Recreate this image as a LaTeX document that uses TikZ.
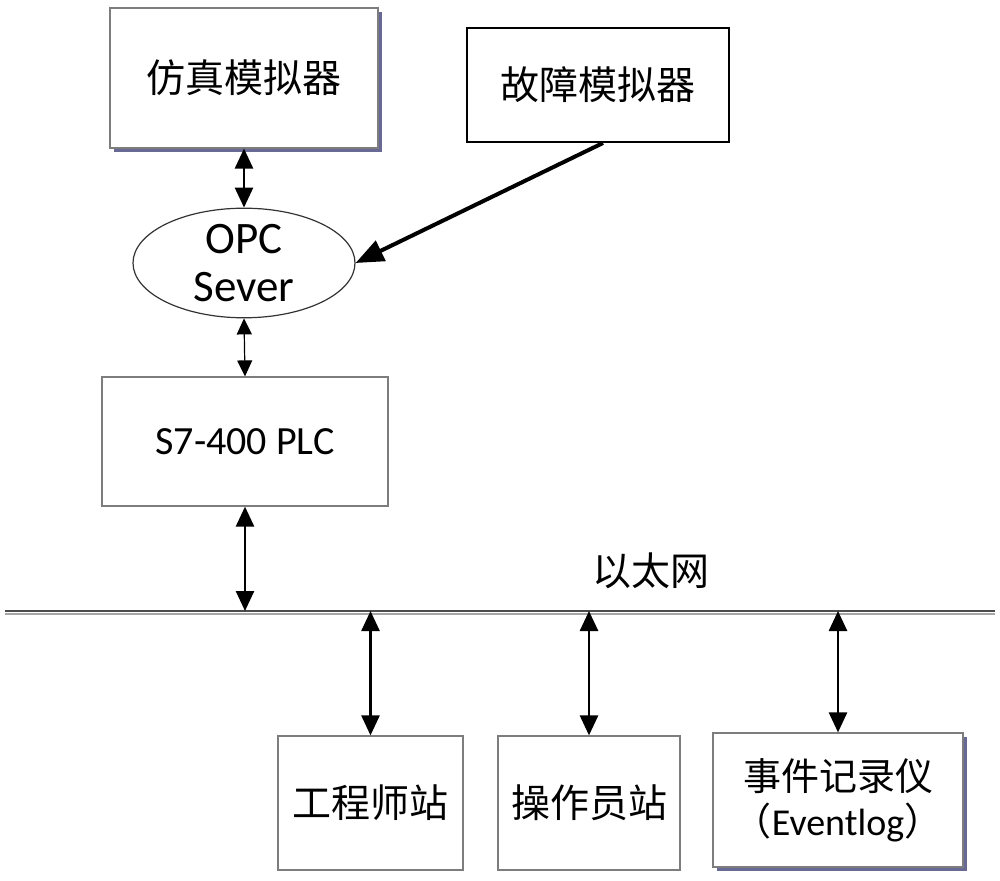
\documentclass[tikz,border=0pt]{standalone}
\usepackage{fontspec}
\setmainfont{Carlito}
\newfontfamily\cjk{Noto Sans CJK SC}
\usetikzlibrary{arrows.meta,shapes.geometric,shadows}
\definecolor{shadowc}{RGB}{105,105,150}
\definecolor{boxline}{RGB}{125,125,125}
\begin{document}
\begin{tikzpicture}[x=0.5pt,y=-0.5pt,
  box/.style={draw=boxline,line width=0.6pt,fill=white,inner sep=0pt,align=center},
  shade4/.style={drop shadow={shadow xshift=2pt,shadow yshift=-2pt,fill=shadowc,opacity=1}},
  cjktext/.style={font=\cjk\fontsize{19.5pt}{23pt}\selectfont},
  bi/.style={{Triangle[length=10pt,width=9pt]}-{Triangle[length=10pt,width=9pt]},line width=1.3pt},
  bismall/.style={{Triangle[length=8pt,width=7.5pt]}-{Triangle[length=8pt,width=7.5pt]},line width=0.6pt},
  thickarrow/.style={-{Triangle[length=14pt,width=11pt]},line width=2pt}]
\useasboundingbox (0,0) rectangle (1000,881);
\fill[white] (0,0) rectangle (1000,881);

\node[box,shade4,cjktext,minimum width=134pt,minimum height=70pt] (sim) at (244,78) {仿真模拟器};
\node[box,draw=black,line width=1pt,cjktext,minimum width=131pt,minimum height=57pt] (fault) at (598,85) {故障模拟器};
\node[draw=black!80,line width=0.6pt,ellipse,inner sep=0pt,minimum width=111pt,minimum height=53pt,align=center,
      font=\fontsize{22.5pt}{24pt}\selectfont] (opc) at (244,263) {OPC\\Sever};
\node[box,minimum width=143pt,minimum height=64.5pt,font=\fontsize{20pt}{24pt}\selectfont] (plc) at (245,441.5) {S7-400 PLC};
\node[box,cjktext,minimum width=92.5pt,minimum height=67pt] (eng) at (370.5,803) {工程师站};
\node[box,cjktext,minimum width=91pt,minimum height=67pt] (op) at (589,803) {操作员站};
\node[box,shade4,minimum width=125pt,minimum height=67pt,font=\fontsize{19pt}{22.5pt}\selectfont] (ev) at (838,800)
  {{\cjk 事件记录仪}\\{\cjk （}Eventlog{\cjk ）}};

% Ethernet bus
\coordinate (busL) at (5,611);
\coordinate (busR) at (995,611);
\draw[black!70,line width=0.7pt] (busL) -- (busR);
\draw[black!35,line width=0.8pt] ([yshift=-1.6pt]busL) -- ([yshift=-1.6pt]busR);
\node[cjktext,anchor=center] (eth) at (651,571) {以太网};

% connectors
\draw[bi] (sim.south) -- (opc.north);
\draw[thickarrow] ([xshift=2.5pt]fault.south) -- (opc.east);
\draw[bismall] (opc.south) -- (plc.north);
\draw[bi] (plc.south) -- (plc.south |- busL);
\draw[bi] (eng.north |- busR) -- (eng.north);
\draw[bi] (op.north |- busR) -- (op.north);
\draw[bi] (ev.north |- busR) -- (ev.north);
\end{tikzpicture}
\end{document}
